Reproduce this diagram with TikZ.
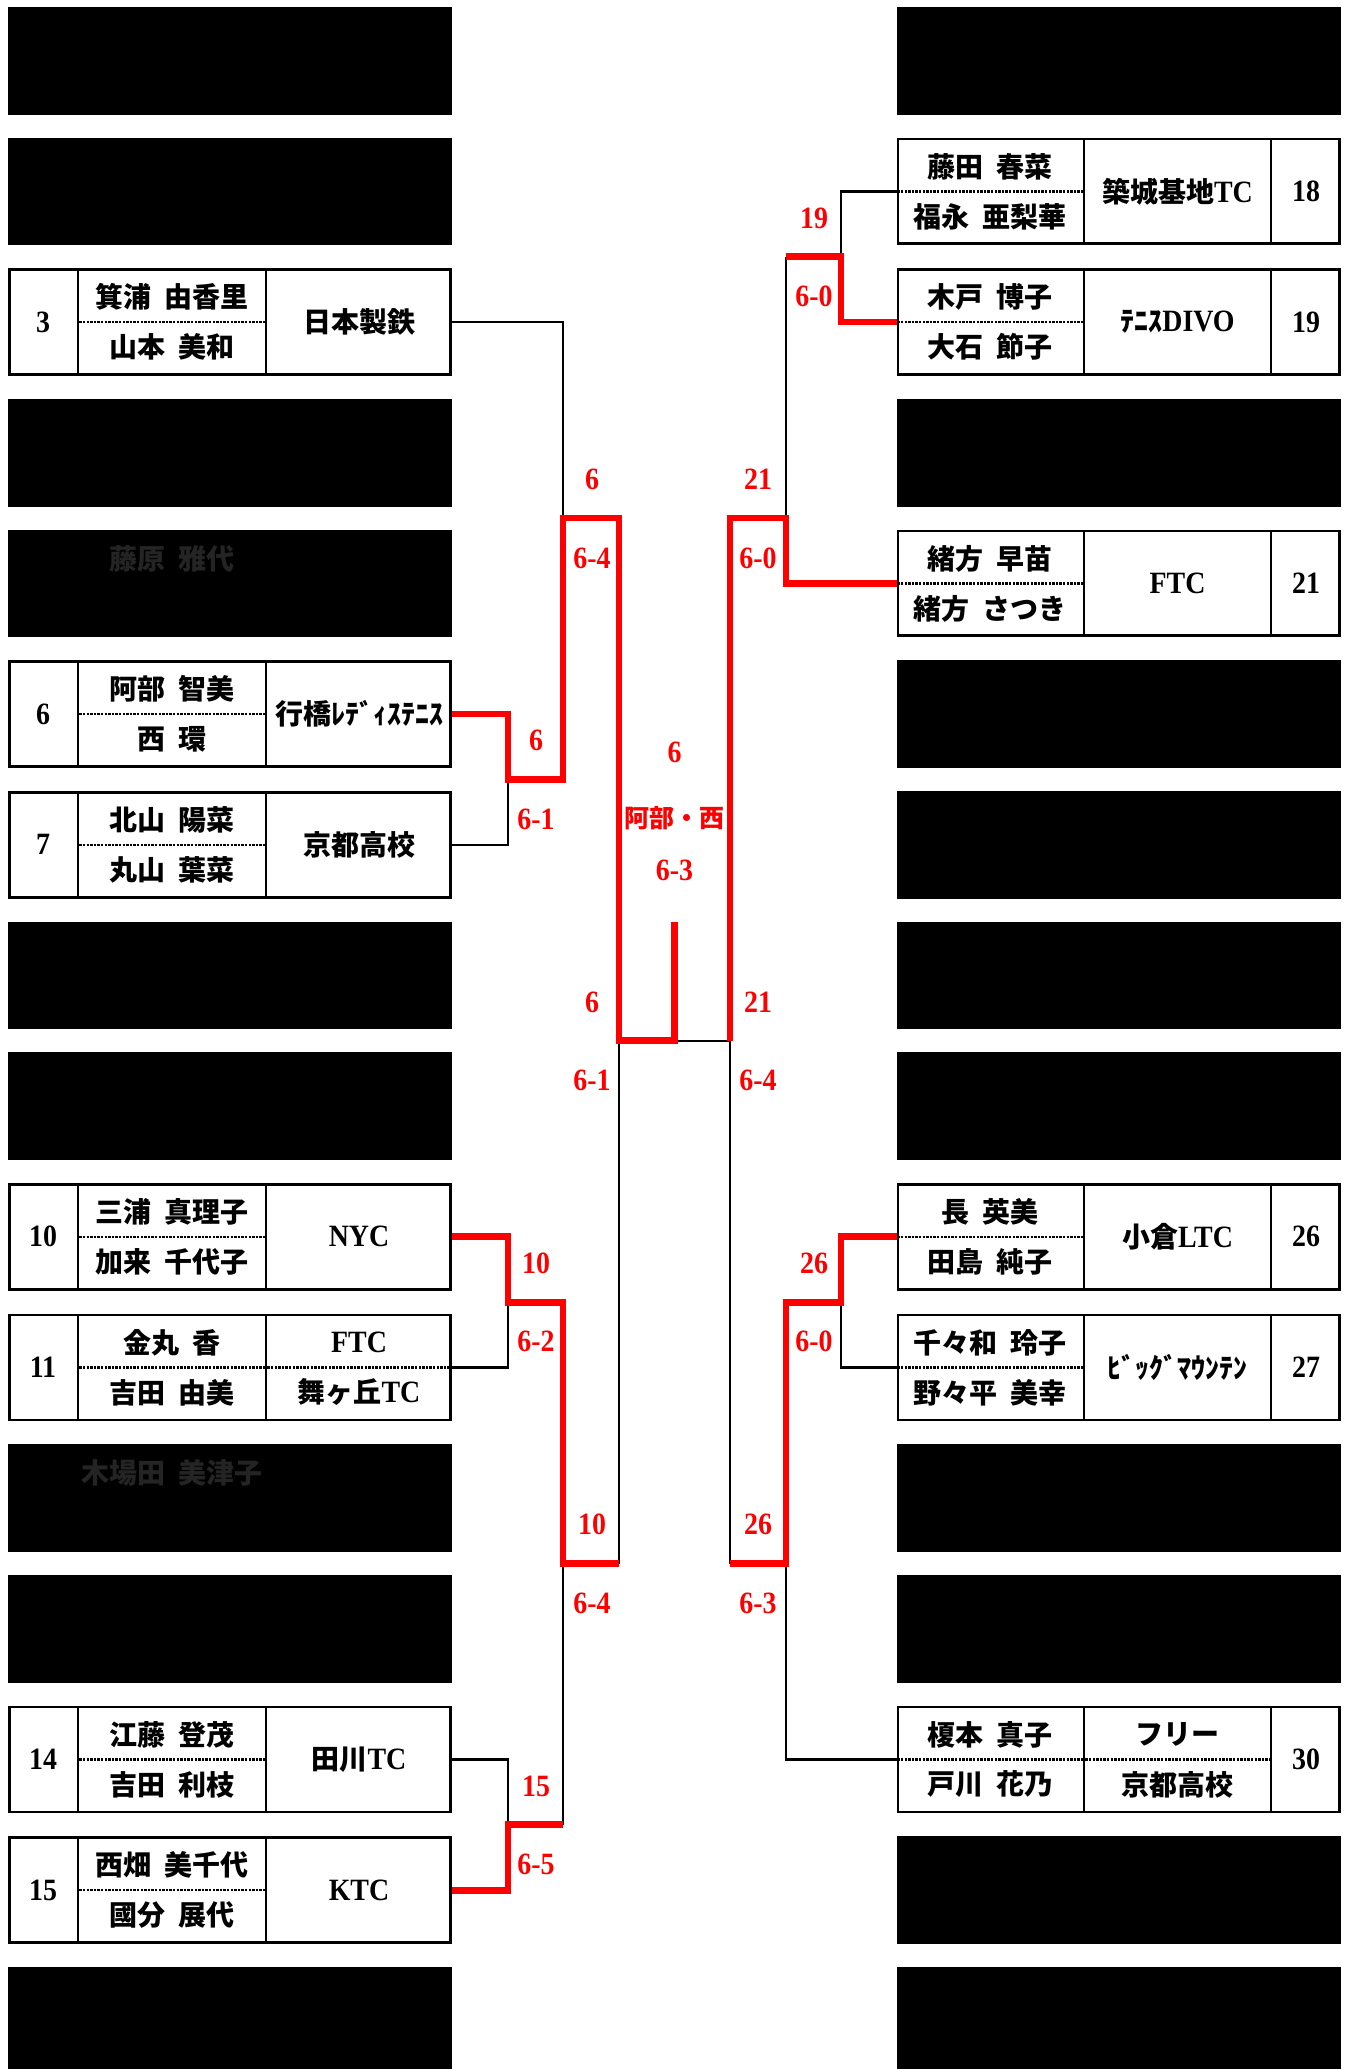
\documentclass[tikz,border=0pt]{standalone}
\usepackage{fontspec}
\usepackage{graphicx}
\setmainfont{Noto Sans CJK JP}[WordSpace=1.9]
\newfontfamily\latfont{Liberation Serif}
\newcommand\latn[1]{\scalebox{0.9}[1]{\latfont\bfseries\fontsize{31}{34}\selectfont #1}}
\definecolor{faint}{RGB}{36,36,36}
\tikzset{
  entry/.style={draw=black, line width=2.7pt, minimum width=441.3pt, minimum height=104.8pt, inner sep=0pt},
  hid/.style={fill=black, minimum width=444pt, minimum height=107.5pt, inner sep=0pt},
  divider/.style={line width=2.7pt},
  dotline/.style={line width=2.2pt, dash pattern=on 2.4pt off 1.2pt},
  nm/.style={inner sep=0pt, font=\fontsize{28}{30}\selectfont\bfseries},
  num/.style={inner sep=0pt},
  lab/.style={inner sep=0pt, text=red},
  blk/.style={line width=2.3pt, draw=black},
  win/.style={line width=6.7pt, draw=red, line join=miter},
}
\newcommand\LE[5]{%
  \pgfmathsetmacro\M{60.75+130.67*#1}%
  \node[entry] (L#1) at (230,\M) {};
  \draw[divider] (78,\M-52.4) -- (78,\M+52.4);
  \draw[divider] (266,\M-52.4) -- (266,\M+52.4);
  \draw[dotline] (79.4,\M) -- (264.6,\M);
  \node[num] (L#1no) at (43,\M) {\latn{#2}};
  \node[nm] (L#1a) at (172,\M-25) {#3};
  \node[nm] (L#1b) at (172,\M+25) {#4};
  \node[nm] (L#1t) at (359,\M) {#5};
}
\newcommand\LEtwo[6]{%
  \pgfmathsetmacro\M{60.75+130.67*#1}%
  \node[entry] (L#1) at (230,\M) {};
  \draw[divider] (78,\M-52.4) -- (78,\M+52.4);
  \draw[divider] (266,\M-52.4) -- (266,\M+52.4);
  \draw[dotline] (79.4,\M) -- (264.6,\M);
  \draw[dotline] (267.4,\M) -- (450.6,\M);
  \node[num] (L#1no) at (43,\M) {\latn{#2}};
  \node[nm] (L#1a) at (172,\M-25) {#3};
  \node[nm] (L#1b) at (172,\M+25) {#4};
  \node[nm] (L#1t) at (359,\M-25) {#5};
  \node[nm] (L#1u) at (359,\M+25) {#6};
}
\newcommand\RE[5]{%
  \pgfmathsetmacro\M{60.75+130.67*#1}%
  \node[entry] (R#1) at (1118.5,\M) {};
  \draw[divider] (1084,\M-52.4) -- (1084,\M+52.4);
  \draw[divider] (1271,\M-52.4) -- (1271,\M+52.4);
  \draw[dotline] (897.4,\M) -- (1082.6,\M);
  \node[nm] (R#1a) at (990,\M-25) {#3};
  \node[nm] (R#1b) at (990,\M+25) {#4};
  \node[nm] (R#1t) at (1177.5,\M) {#5};
  \node[num] (R#1no) at (1306,\M) {\latn{#2}};
}
\newcommand\REtwo[6]{%
  \pgfmathsetmacro\M{60.75+130.67*#1}%
  \node[entry] (R#1) at (1118.5,\M) {};
  \draw[divider] (1084,\M-52.4) -- (1084,\M+52.4);
  \draw[divider] (1271,\M-52.4) -- (1271,\M+52.4);
  \draw[dotline] (897.4,\M) -- (1082.6,\M);
  \draw[dotline] (1085.4,\M) -- (1269.6,\M);
  \node[nm] (R#1a) at (990,\M-25) {#3};
  \node[nm] (R#1b) at (990,\M+25) {#4};
  \node[nm] (R#1t) at (1177.5,\M-25) {#5};
  \node[nm] (R#1u) at (1177.5,\M+25) {#6};
  \node[num] (R#1no) at (1306,\M) {\latn{#2}};
}
\begin{document}
\begin{tikzpicture}[x=1pt,y=-1pt]
\useasboundingbox (0,0) rectangle (1344,2069);
\fill[white] (0,0) rectangle (1344,2069);
% hidden rows
\foreach \i in {0,1,3,4,7,8,11,12,15}{
  \pgfmathsetmacro\M{60.75+130.67*\i}
  \node[hid] (L\i) at (230,\M) {};
}
\foreach \i in {0,3,5,6,7,8,11,12,14,15}{
  \pgfmathsetmacro\M{60.75+130.67*\i}
  \node[hid] (R\i) at (1118.5,\M) {};
}
\node[nm, text=faint] (L4a) at (172,558.4) {藤原 雅代};
\node[nm, text=faint] (L11a) at (172,1473.1) {木場田 美津子};
% left entries
\LE{2}{3}{箕浦 由香里}{山本 美和}{日本製鉄}
\LE{5}{6}{阿部 智美}{西 環}{行橋ﾚﾃﾞｨｽﾃﾆｽ}
\LE{6}{7}{北山 陽菜}{丸山 葉菜}{京都高校}
\LE{9}{10}{三浦 真理子}{加来 千代子}{\latn{NYC}}
\LEtwo{10}{11}{金丸 香}{吉田 由美}{\latn{FTC}}{舞ヶ丘\latn{TC}}
\LE{13}{14}{江藤 登茂}{吉田 利枝}{田川\latn{TC}}
\LE{14}{15}{西畑 美千代}{國分 展代}{\latn{KTC}}
% right entries
\RE{1}{18}{藤田 春菜}{福永 亜梨華}{築城基地\latn{TC}}
\RE{2}{19}{木戸 博子}{大石 節子}{ﾃﾆｽ\latn{DIVO}}
\RE{4}{21}{緒方 早苗}{緒方 さつき}{\latn{FTC}}
\RE{9}{26}{長 英美}{田島 純子}{小倉\latn{LTC}}
\RE{10}{27}{千々和 玲子}{野々平 美幸}{ﾋﾞｯｸﾞﾏｳﾝﾃﾝ}
\REtwo{13}{30}{榎本 真子}{戸川 花乃}{フリー}{京都高校}
% junctions
\coordinate (jL1a) at (508,779.4);
\coordinate (jL1b) at (508,1302.2);
\coordinate (jL1c) at (508,1824.8);
\coordinate (jL2a) at (563,518.1);
\coordinate (jL2b) at (563,1563.5);
\coordinate (kL2c) at (563,1824.8);
\coordinate (jL3) at (619,1040.8);
\coordinate (kL3b) at (619,1563.5);
\coordinate (fin) at (674.5,1040.8);
\coordinate (finTop) at (674.5,922);
\coordinate (jR1a) at (841,256.8);
\coordinate (kR2a) at (786,256.8);
\coordinate (jR2a) at (786,518.1);
\coordinate (jR1b) at (841,1302.2);
\coordinate (jR2b) at (786,1563.5);
\coordinate (kR3b) at (730,1563.5);
\coordinate (jR3) at (730,1040.8);
% losing lines
\draw[blk] (L2.east) -| (jL2a);
\draw[blk] (L6.east) -| (jL1a);
\draw[blk] (L10.east) -| (jL1b);
\draw[blk] (L13.east) -| (jL1c);
\draw[blk] (kL2c) -- (jL2b);
\draw[blk] (kL3b) -- (jL3);
\draw[blk] (fin) -- (jR3);
\draw[blk] (R1.west) -| (jR1a);
\draw[blk] (kR2a) -- (jR2a);
\draw[blk] (R10.west) -| (jR1b);
\draw[blk] (R13.west) -| (jR2b);
\draw[blk] (kR3b) -- (jR3);
% winning lines
\draw[win] (L5.east) -| (jL1a) -| (jL2a) -| (jL3) -| (finTop);
\draw[win] (L9.east) -| (jL1b) -| (jL2b) -- (kL3b);
\draw[win] (L14.east) -| (jL1c) -- (kL2c);
\draw[win] (R2.west) -| (jR1a) -- (kR2a);
\draw[win] (R4.west) -| (jR2a) -| (jR3);
\draw[win] (R9.west) -| (jR1b) -| (jR2b) -- (kR3b);
% labels left
\node[lab] (w1) at (536,740.4) {\latn{6}};
\node[lab] (s1) at (536,819.4) {\latn{6-1}};
\node[lab] (w2) at (592,479) {\latn{6}};
\node[lab] (s2) at (592,558) {\latn{6-4}};
\node[lab] (w3) at (592,1002) {\latn{6}};
\node[lab] (s3) at (592,1080) {\latn{6-1}};
\node[lab] (w4) at (536,1263) {\latn{10}};
\node[lab] (s4) at (536,1341) {\latn{6-2}};
\node[lab] (w5) at (592,1524.5) {\latn{10}};
\node[lab] (s5) at (592,1603) {\latn{6-4}};
\node[lab] (w6) at (536,1786) {\latn{15}};
\node[lab] (s6) at (536,1864) {\latn{6-5}};
% labels right
\node[lab] (w7) at (814,218) {\latn{19}};
\node[lab] (s7) at (814,296) {\latn{6-0}};
\node[lab] (w8) at (758,479) {\latn{21}};
\node[lab] (s8) at (758,558) {\latn{6-0}};
\node[lab] (w9) at (758,1002) {\latn{21}};
\node[lab] (s9) at (758,1080) {\latn{6-4}};
\node[lab] (w10) at (814,1263) {\latn{26}};
\node[lab] (s10) at (814,1341) {\latn{6-0}};
\node[lab] (w11) at (758,1524.5) {\latn{26}};
\node[lab] (s11) at (758,1603) {\latn{6-3}};
% final
\node[lab] (fw) at (674.5,752) {\latn{6}};
\node[lab, font=\fontsize{25}{27}\selectfont\bfseries] (champ) at (674.5,818) {阿部・西};
\node[lab] (fs) at (674.5,870) {\latn{6-3}};
\end{tikzpicture}
\end{document}
